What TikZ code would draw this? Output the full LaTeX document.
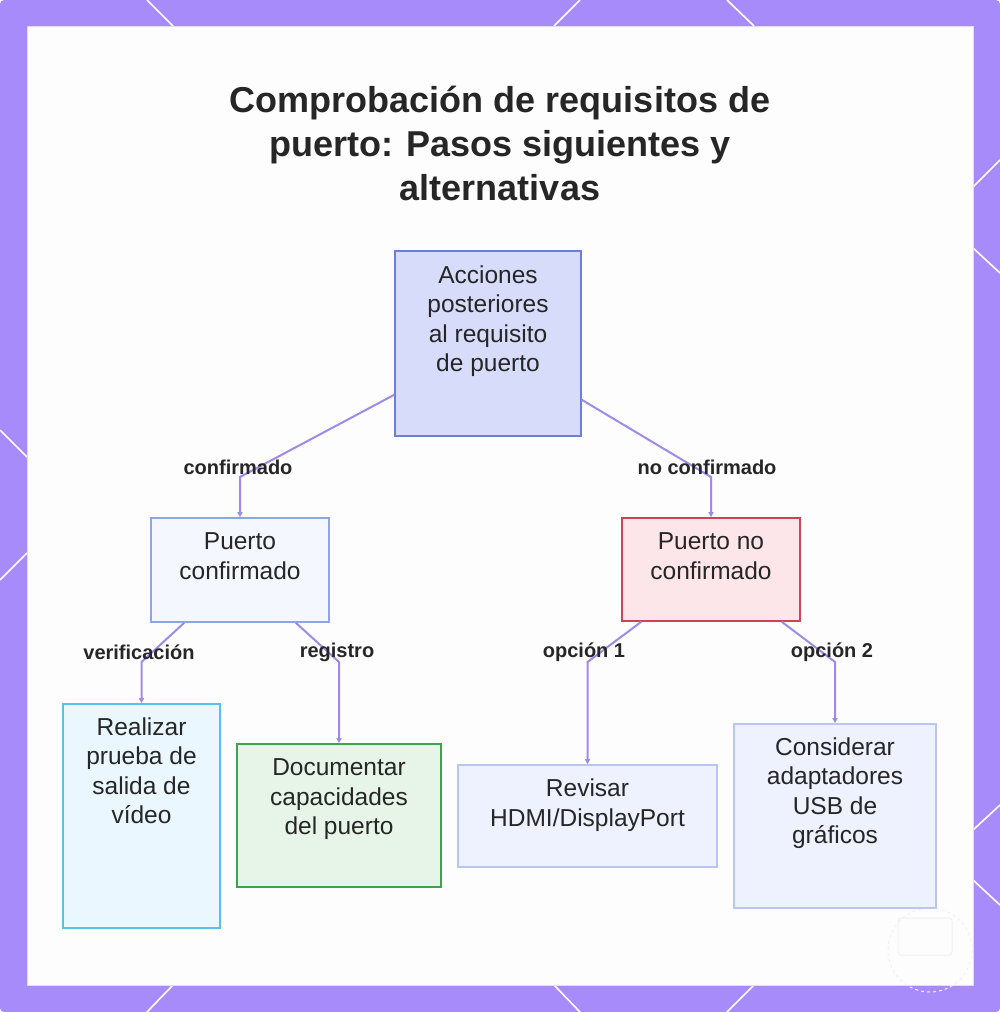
\documentclass[tikz,border=0pt]{standalone}
\usepackage{fontspec}
\setmainfont{Liberation Sans}
\usetikzlibrary{arrows.meta,calc}
\definecolor{frame}{HTML}{A78BFA}
\definecolor{inner}{HTML}{FDFDFD}
\definecolor{innerline}{HTML}{E2DAF8}
\definecolor{conn}{HTML}{A08AE8}
\definecolor{ink}{HTML}{262626}
\definecolor{topfill}{HTML}{D8DCFB}
\definecolor{topdraw}{HTML}{6B7FD7}
\definecolor{okfill}{HTML}{F5F7FF}
\definecolor{okdraw}{HTML}{8FA3EB}
\definecolor{nofill}{HTML}{FDE6E9}
\definecolor{nodraw}{HTML}{CC4455}
\definecolor{vidfill}{HTML}{EAF7FE}
\definecolor{viddraw}{HTML}{56C2EA}
\definecolor{docfill}{HTML}{E7F5E9}
\definecolor{docdraw}{HTML}{3DA34F}
\definecolor{altfill}{HTML}{EEF1FE}
\definecolor{altdraw}{HTML}{BAC6F2}
\tikzset{
  boxshape/.style={draw, line width=1.6pt, inner sep=0pt, rectangle},
  boxtext/.style={anchor=north, inner sep=0pt, align=center, text=ink,
    font=\fontsize{24.5}{29.5}\selectfont},
  edgelabel/.style={inner sep=0pt, text=ink, font=\fontsize{20}{22}\selectfont\bfseries},
  conline/.style={draw=conn, line width=2pt, -{Triangle[length=5pt,width=5pt]}},
  hexline/.style={draw=white, line width=1.6pt}
}
\newcommand{\fs}{\rule{0pt}{18pt}}
\begin{document}
\begin{tikzpicture}[x=1pt,y=-1pt]
\useasboundingbox (0,0) rectangle (1000,1012);
% frame
\fill[frame, rounded corners=4pt] (0,0) rectangle (1000,1012);
\foreach \a/\b/\c/\d in {147/0/173/26, 580/0/554/26, 727/0/754/26,
  173/985/147/1012, 554/985/580/1012, 754/985/727/1012,
  0/430/27/457, 27/553/0/580,
  973/187/1000/160, 973/248/1000/273, 973/830/1000/805, 973/880/1000/905}
  \draw[hexline] (\a,\b) -- (\c,\d);
\fill[inner] (27,26) rectangle (973,985);
\draw[innerline, line width=1pt] (27,26) rectangle (973,985);
% faint watermark
\draw[black!5, line width=1pt, dashed] (930,950) circle (42);
\draw[black!5, line width=1pt, rounded corners=3pt] (898,918) rectangle (952,955);
% title
\node[anchor=north, inner sep=0pt, align=center, text=ink,
  font=\fontsize{36}{44}\selectfont\bfseries] (title) at (500,85)
  {\rule{0pt}{27pt}Comprobación de requisitos de\\puerto: Pasos siguientes y\\alternativas};
% boxes
\node[boxshape, draw=topdraw, fill=topfill, minimum width=186pt, minimum height=185pt] (a) at (488,343.5) {};
\node[boxshape, draw=okdraw, fill=okfill, minimum width=178pt, minimum height=104pt] (b) at (240,570) {};
\node[boxshape, draw=nodraw, fill=nofill, minimum width=178pt, minimum height=103pt] (c) at (711,569.5) {};
\node[boxshape, draw=viddraw, fill=vidfill, minimum width=157pt, minimum height=224pt] (d) at (141.5,816) {};
\node[boxshape, draw=docdraw, fill=docfill, minimum width=204pt, minimum height=143pt] (e) at (339,815.5) {};
\node[boxshape, draw=altdraw, fill=altfill, minimum width=259pt, minimum height=102pt] (f) at (587.5,816) {};
\node[boxshape, draw=altdraw, fill=altfill, minimum width=202pt, minimum height=184pt] (g) at (835,816) {};
% box texts
\node[boxtext] (at) at ($(a.north)+(0,15)$) {\fs Acciones\\posteriores\\al requisito\\de puerto};
\node[boxtext] (bt) at ($(b.north)+(0,14.5)$) {\fs Puerto\\confirmado};
\node[boxtext] (ct) at ($(c.north)+(0,14.5)$) {\fs Puerto no\\confirmado};
\node[boxtext] (dt) at ($(d.north)+(0,14)$) {\fs Realizar\\prueba de\\salida de\\vídeo};
\node[boxtext] (et) at ($(e.north)+(0,14.5)$) {\fs Documentar\\capacidades\\del puerto};
\node[boxtext] (ft) at ($(f.north)+(0,14.5)$) {\fs Revisar\\HDMI/DisplayPort};
\node[boxtext] (gt) at ($(g.north)+(0,14)$) {\fs Considerar\\adaptadores\\USB de\\gráficos};
% connectors
\draw[conline] ($(a.south west)+(0,-42)$) -- (240,477) -- (b.north);
\draw[conline] ($(a.south east)+(0,-37)$) -- (711,477) -- (c.north);
\draw[conline] ($(b.south west)+(34,0)$) -- (141.5,662) -- (d.north);
\draw[conline] ($(b.south east)+(-34,0)$) -- (339,662) -- (e.north);
\draw[conline] ($(c.south west)+(20,0)$) -- (587.5,662) -- (f.north);
\draw[conline] ($(c.south east)+(-19,0)$) -- (835,662) -- (g.north);
% labels
\node[edgelabel] (l1) at (238,467) {confirmado};
\node[edgelabel] (l2) at (707,467) {no confirmado};
\node[edgelabel] (l3) at (139,652) {verificación};
\node[edgelabel] (l4) at (337,652) {registro};
\node[edgelabel] (l5) at (584,652) {opción 1};
\node[edgelabel] (l6) at (832,652) {opción 2};
\end{tikzpicture}
\end{document}
